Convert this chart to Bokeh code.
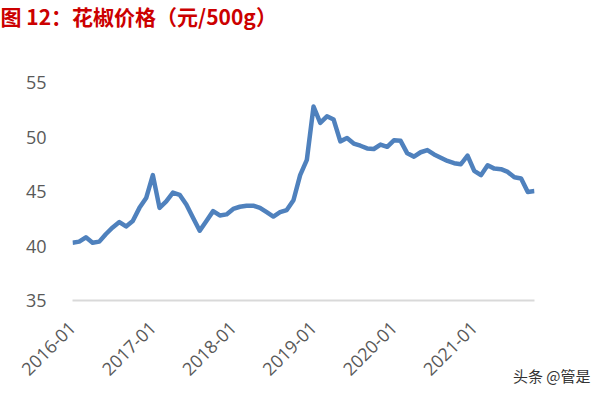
import math
from bokeh.plotting import figure
from bokeh.models import Range1d, FixedTicker, Title
from bokeh.embed import file_html
from bokeh.resources import INLINE

# ---- data ----
months = [f"{y}-{m:02d}" for y in range(2016, 2022) for m in range(1, 13)][:70]
prices = [
    40.3, 40.4, 40.8, 40.3, 40.4, 41.1, 41.7, 42.2, 41.8, 42.3, 43.5, 44.4,
    46.5, 43.5, 44.1, 44.9, 44.7, 43.8, 42.6, 41.4, 42.3, 43.2, 42.8, 42.9,
    43.4, 43.6, 43.7, 43.7, 43.5, 43.1, 42.7, 43.1, 43.3, 44.2, 46.5, 47.9,
    52.8, 51.3, 51.9, 51.6, 49.6, 49.9, 49.4, 49.2, 48.95, 48.9, 49.3, 49.1,
    49.7, 49.65, 48.5, 48.2, 48.6, 48.8, 48.4, 48.1, 47.8, 47.6, 47.5, 48.3,
    46.9, 46.5, 47.4, 47.1, 47.05, 46.8, 46.3, 46.2, 44.95, 45.05,
]
tick_labels = ["2016-01", "2017-01", "2018-01", "2019-01", "2020-01", "2021-01"]
y_ticks = [35, 40, 45, 50, 55]
title_text = "图 12：花椒价格（元/500g）"
watermark = "头条 @管是"

xs = list(range(len(prices)))
tick_pos = [months.index(t) for t in tick_labels]

W, H = 600, 407
FL, FR, FT, FB = 72, 66, 82, 107   # frame borders

p = figure(width=W, height=H, output_backend="svg", toolbar_location=None,
           x_range=Range1d(0, len(prices) - 1), y_range=Range1d(35, 55),
           min_border_left=FL, min_border_right=FR, min_border_top=FT,
           min_border_bottom=FB)
p.outline_line_color = None
p.xgrid.visible = False
p.ygrid.visible = False
p.background_fill_color = "white"
p.border_fill_color = "white"

p.line(xs, prices, line_color="#4F81BD", line_width=4.5, line_join="round")

# x axis
p.xaxis.ticker = FixedTicker(ticks=tick_pos)
p.xaxis.major_label_overrides = {tp: lab for tp, lab in zip(tick_pos, tick_labels)}
p.xaxis.major_label_orientation = math.pi / 4
p.xaxis.axis_line_color = "#D9D9D9"
p.xaxis.axis_line_width = 2
p.xaxis.major_tick_line_color = None
p.xaxis.minor_tick_line_color = None
p.xaxis.major_label_text_font = "Open Sans"
p.xaxis.major_label_text_font_size = "18px"
p.xaxis.major_label_text_color = "#595959"
p.xaxis.major_label_standoff = 18

# y axis
p.yaxis.ticker = FixedTicker(ticks=y_ticks)
p.yaxis.axis_line_color = None
p.yaxis.major_tick_line_color = None
p.yaxis.minor_tick_line_color = None
p.yaxis.major_label_text_font = "Open Sans"
p.yaxis.major_label_text_font_size = "18px"
p.yaxis.major_label_text_color = "#595959"
p.yaxis.major_label_standoff = 20

# blank spacer next to the frame, then the title further out (at the top)
p.add_layout(Title(text=" ", text_font_size="10px", text_color="white", standoff=37),
             "above")
p.add_layout(Title(text=title_text, align="left", offset=-FL,
                   text_font="Noto Sans CJK SC", text_font_style="bold",
                   text_font_size="21px", text_color="#CC0000", standoff=0,
                   vertical_align="top"),
             "above")
p.add_layout(Title(text=watermark, align="right", offset=-56,
                   text_font="Noto Sans CJK SC", text_font_style="normal",
                   text_font_size="15px", text_color="#333333", standoff=-40,
                   vertical_align="top"),
             "below")

open("out.html", "w").write(file_html(p, INLINE))
